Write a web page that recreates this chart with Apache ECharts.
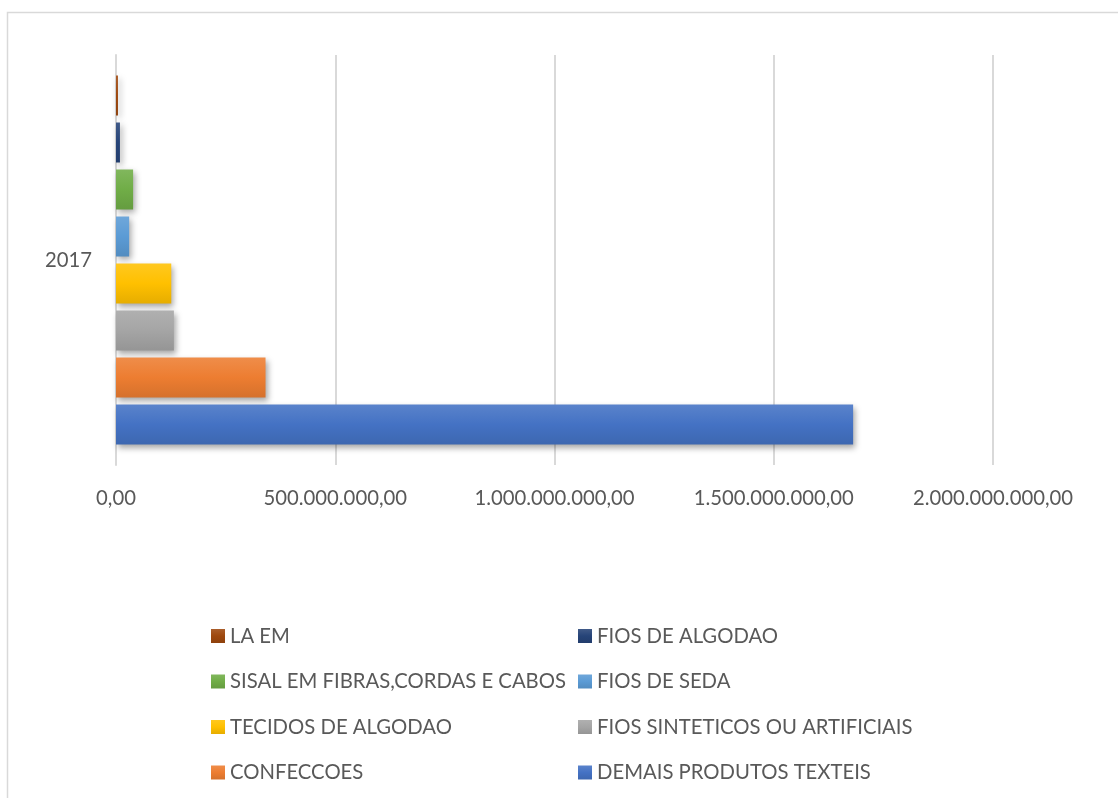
<!DOCTYPE html>
<html>
<head>
<meta charset="utf-8">
<script src="https://cdn.jsdelivr.net/npm/echarts@6/dist/echarts.min.js"></script>
<style>
html,body{margin:0;padding:0;background:#fff;}
#chart{width:1118px;height:798px;}
</style>
</head>
<body>
<div id="chart"></div>
<script>
// ---- data ----
const categories = ['2017'];
const seriesNames = [
  'LA EM',
  'FIOS DE ALGODAO',
  'SISAL EM FIBRAS,CORDAS E CABOS',
  'FIOS DE SEDA',
  'TECIDOS DE ALGODAO',
  'FIOS SINTETICOS OU ARTIFICIAIS',
  'CONFECCOES',
  'DEMAIS PRODUTOS TEXTEIS'
];
const seriesValues = [
  [4500000],
  [9000000],
  [39000000],
  [30000000],
  [126000000],
  [132000000],
  [341000000],
  [1681000000]
];
const xTicks = [0, 500000000, 1000000000, 1500000000, 2000000000];
const legendLeft = ['LA EM', 'SISAL EM FIBRAS,CORDAS E CABOS', 'TECIDOS DE ALGODAO', 'CONFECCOES'];
const legendRight = ['FIOS DE ALGODAO', 'FIOS DE SEDA', 'FIOS SINTETICOS OU ARTIFICIAIS', 'DEMAIS PRODUTOS TEXTEIS'];

// ---- style ----
const baseColors = ['#9e480e', '#264478', '#70ad47', '#5b9bd5', '#ffc000', '#a5a5a5', '#ed7d31', '#4472c4'];
function shade(hex, f) {
  const n = parseInt(hex.slice(1), 16);
  let r = (n >> 16) & 255, g = (n >> 8) & 255, b = n & 255;
  if (f > 0) { r += (255 - r) * f; g += (255 - g) * f; b += (255 - b) * f; }
  else { r *= (1 + f); g *= (1 + f); b *= (1 + f); }
  return 'rgb(' + Math.round(r) + ',' + Math.round(g) + ',' + Math.round(b) + ')';
}
function grad(hex) {
  return new echarts.graphic.LinearGradient(0, 0, 0, 1, [
    { offset: 0, color: shade(hex, 0.12) },
    { offset: 0.5, color: hex },
    { offset: 1, color: shade(hex, -0.1) }
  ]);
}
const FONT = 'Lato';
const TXT = '#595959';
const FS = 20.3;

function fmt(v) {
  const s = Math.round(v).toString().replace(/\B(?=(\d{3})+(?!\d))/g, '.');
  return s + ',00';
}

const chart = echarts.init(document.getElementById('chart'), null, { renderer: 'canvas' });
const legendCommon = {
  orient: 'vertical',
  icon: 'rect',
  itemWidth: 14,
  itemHeight: 14,
  itemGap: 25.5,
  padding: 0,
  textStyle: { color: TXT, fontSize: FS, fontFamily: FONT, lineHeight: 20 },
  selectedMode: false
};
chart.setOption({
  animation: false,
  backgroundColor: '#fff',
  textStyle: { fontFamily: FONT },
  graphic: [{
    type: 'rect',
    shape: { x: 7.5, y: 12.5, width: 1300, height: 1000 },
    style: { fill: 'none', stroke: '#d9d9d9', lineWidth: 1.5 },
    silent: true
  }],
  grid: { left: 116, right: 125, top: 55, bottom: 333, containLabel: false },
  xAxis: {
    type: 'value',
    min: xTicks[0],
    max: xTicks[xTicks.length - 1],
    interval: xTicks[1] - xTicks[0],
    axisLine: { show: false },
    axisTick: { show: false },
    splitLine: { lineStyle: { color: '#d9d9d9', width: 2 } },
    axisLabel: { color: TXT, fontSize: FS, fontFamily: FONT, margin: 23, formatter: fmt }
  },
  yAxis: {
    type: 'category',
    data: categories,
    axisLine: { show: true, lineStyle: { color: '#d9d9d9', width: 2 } },
    axisTick: { show: false },
    axisLabel: { color: TXT, fontSize: FS, fontFamily: FONT, margin: 24 }
  },
  legend: [
    Object.assign({ left: 211, top: 626, data: legendLeft }, legendCommon),
    Object.assign({ left: 578, top: 626, data: legendRight }, legendCommon)
  ],
  series: seriesNames.map((name, i) => ({
    type: 'bar',
    name: name,
    data: seriesValues[i],
    barWidth: 40,
    barGap: '17.5%',
    color: baseColors[i],
    itemStyle: {
      color: grad(baseColors[i]),
      shadowColor: 'rgba(0,0,0,0.35)',
      shadowBlur: 6,
      shadowOffsetX: 2,
      shadowOffsetY: 3
    }
  }))
});
</script>
</body>
</html>
